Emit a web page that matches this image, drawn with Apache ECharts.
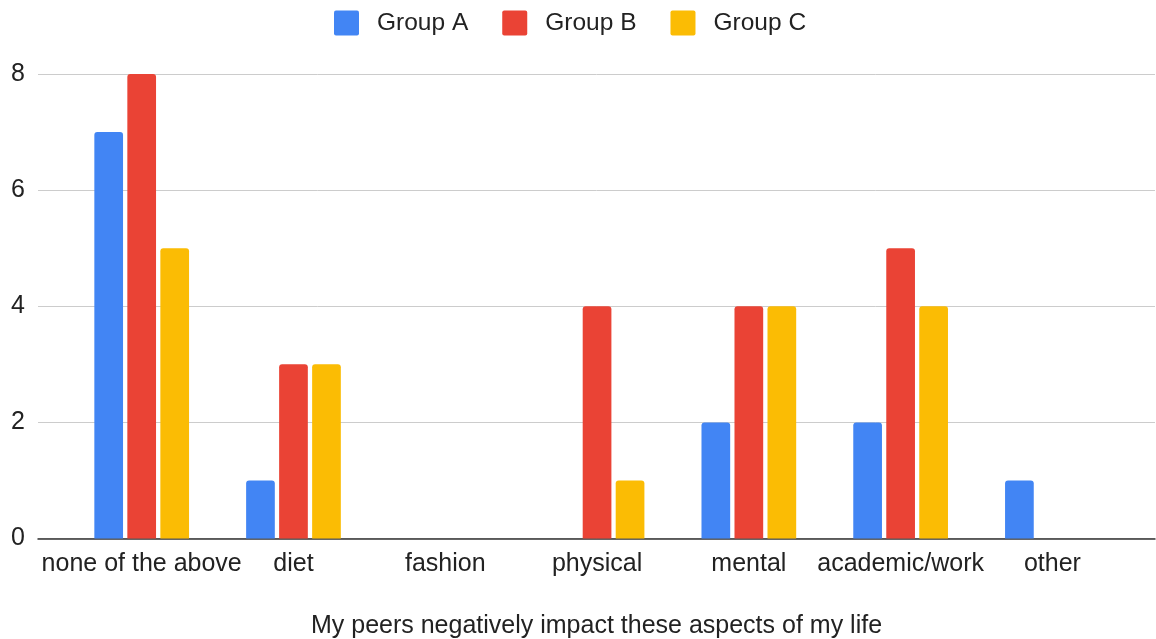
<!DOCTYPE html>
<html>
<head>
<meta charset="utf-8">
<script src="https://cdn.jsdelivr.net/npm/echarts@6/dist/echarts.min.js"></script>
<style>
  html, body { margin: 0; padding: 0; background: #fff; }
  #chart { width: 1156px; height: 639px; }
</style>
</head>
<body>
<div id="chart"></div>
<script>
// Survey answers: which parts of life peers negatively impact
const categories = ['none of the above', 'diet', 'fashion', 'physical', 'mental', 'academic/work', 'other'];
const groupA = [7, 1, 0, 0, 2, 2, 1];
const groupB = [8, 3, 0, 4, 4, 5, 0];
const groupC = [5, 3, 0, 1, 4, 4, 0];
const yTicks = { min: 0, max: 8, interval: 2 };
const axisTitle = 'My peers negatively impact these aspects of my life';

const FONT = '"Liberation Sans", Arial, sans-serif';
const TEXT = '#222222';
// small rounded square for legend keys
const KEY_ICON = 'path://M2,0 H23 A2,2 0 0 1 25,2 V23 A2,2 0 0 1 23,25 H2 A2,2 0 0 1 0,23 V2 A2,2 0 0 1 2,0 Z';

const chart = echarts.init(document.getElementById('chart'), null, { renderer: 'canvas' });

function barSeries(name, data, color) {
  return {
    name: name,
    type: 'bar',
    xAxisIndex: 1,
    yAxisIndex: 1,
    data: data,
    barWidth: 28.7,
    barGap: '15%',
    itemStyle: { color: color, borderRadius: [3, 3, 0, 0] }
  };
}

chart.setOption({
  animation: false,
  backgroundColor: '#ffffff',
  textStyle: { fontFamily: FONT },
  legend: {
    left: 334,
    top: 10.5,
    padding: 0,
    icon: KEY_ICON,
    itemWidth: 25,
    itemHeight: 25,
    itemGap: 34,
    textStyle: { fontSize: 24.5, color: TEXT, fontFamily: FONT, padding: [0, 0, 0, 13] },
    data: ['Group A', 'Group B', 'Group C']
  },
  grid: [
    // frame: gridlines, value labels and baseline across the full width
    { left: 38, right: 1, top: 74, bottom: 100.5, containLabel: false, outerBoundsMode: 'none' },
    // bars: category bands
    { left: 65.8, right: 27.7, top: 74, bottom: 100.5, containLabel: false, outerBoundsMode: 'none' }
  ],
  xAxis: [
    {
      gridIndex: 0,
      type: 'value',
      min: 0,
      max: 1,
      axisLine: { show: true, onZero: false, lineStyle: { color: '#333333', width: 1.5 } },
      axisTick: { show: false },
      axisLabel: { show: false },
      splitLine: { show: false },
      name: axisTitle,
      nameLocation: 'middle',
      nameGap: 75,
      nameTextStyle: { fontSize: 25, color: TEXT, fontFamily: FONT }
    },
    {
      gridIndex: 1,
      type: 'category',
      data: categories,
      axisLine: { show: false },
      axisTick: { show: false },
      axisLabel: { fontSize: 25, color: TEXT, fontFamily: FONT, margin: 13.5, interval: 0 }
    }
  ],
  yAxis: [
    {
      gridIndex: 0,
      type: 'value',
      min: yTicks.min,
      max: yTicks.max,
      interval: yTicks.interval,
      axisLine: { show: false },
      axisTick: { show: false },
      axisLabel: { fontSize: 25, color: TEXT, fontFamily: FONT, margin: 13 },
      splitLine: { lineStyle: { color: '#cccccc', width: 1 } }
    },
    {
      gridIndex: 1,
      type: 'value',
      min: yTicks.min,
      max: yTicks.max,
      interval: yTicks.interval,
      show: false
    }
  ],
  series: [
    barSeries('Group A', groupA, '#4285F4'),
    barSeries('Group B', groupB, '#EA4335'),
    barSeries('Group C', groupC, '#FBBC04')
  ]
});
</script>
</body>
</html>
